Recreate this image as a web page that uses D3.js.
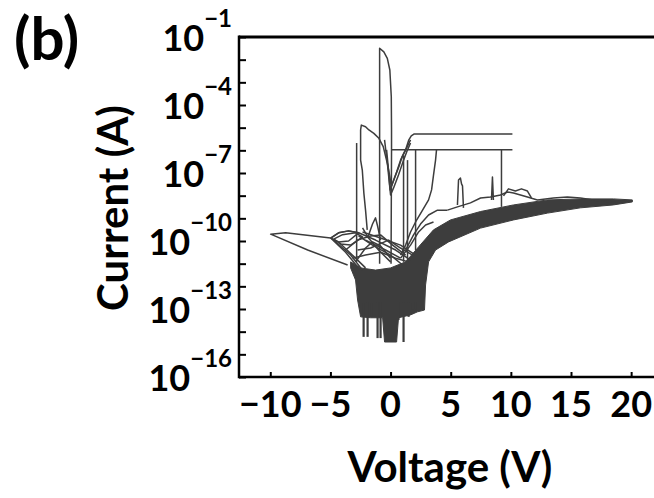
<!DOCTYPE html>
<html><head><meta charset="utf-8">
<script src="https://cdn.jsdelivr.net/npm/d3@7"></script>
<style>
html,body{margin:0;padding:0;background:#fff;}
svg{display:block;font-family:Lato,"Open Sans",sans-serif;font-weight:700;}
</style></head>
<body><svg id="chart" width="654" height="498"></svg>
<script>
// ---------- tick labels ----------
const xTicks = [-10, -5, 0, 5, 10, 15, 20];
const yLabelExps = [-1, -4, -7, -10, -13, -16];
const yMinorExps = [-2, -3, -5, -6, -8, -9, -11, -12, -14, -15];

// ---------- data (Voltage V, Current A) ----------
// dense bundle of sweeps (outline)
const fanOutline = [
  [-3.32,1.2e-11],[-2.49,6.5e-12],[-1.25,5.2e-12],[0,6.5e-12],[1.25,1.2e-11],[2.33,5.5e-11],
  [3.57,3.1e-10],[4.98,8.5e-10],[7.48,2.0e-9],[10.22,3.9e-9],[13.04,6.5e-9],[15.78,7.2e-9],
  [18.52,7.2e-9],[20.1,6.5e-9],
  [20.1,5.3e-9],[18.52,3.9e-9],[15.78,2.9e-9],[13.04,1.7e-9],[10.22,8.5e-10],[7.48,3.7e-10],
  [4.82,9.1e-11],[3.74,4.0e-11],[3.16,1.2e-11],[2.91,1.15e-12],[2.82,9e-14],[2.24,7.5e-14],
  [1.66,5.5e-14],[0.66,4.1e-14],[0.5,3.5e-15],[-0.5,3.5e-15],[-0.66,4.1e-14],[-1.66,4.1e-14],
  [-2.49,4.5e-14],[-2.74,2.5e-13],[-2.91,1.9e-12],[-3.32,6.5e-12]
];
// noise spikes under the bundle: [V, lowest current]
const floorSpikes = [
  [-2.24,5.9e-15],[-1.91,5.9e-15],[-1.58,4.5e-14],[-1.08,5.2e-15],[-0.83,5.2e-15],
  [0.66,3.3e-14],[1.08,3.5e-15],[1.50,4.5e-14],[1.83,9.1e-14],[2.08,9.1e-14]
];
// individual sweeps
const leftLoop = [[-3.57,8.7e-12],[-6.89,4.0e-11],[-9.97,2.0e-10],[-8.72,2.3e-10],[-4.98,1.35e-10],[-4.32,2.3e-10],[-3.49,2.8e-10],[-2.66,2.3e-10]];
const lens1 = [[-4.98,1.35e-10],[-4.32,2.3e-10],[-3.49,2.8e-10],[-2.66,2.3e-10],[-3.49,1.0e-10],[-4.32,9.1e-11],[-4.98,1.35e-10]];
const lens2 = [[-4.73,1.2e-10],[-3.99,1.9e-10],[-2.91,2.3e-10],[-2.33,1.5e-10],[-3.32,6.6e-11],[-4.15,7.4e-11],[-4.73,1.2e-10]];
const diag1 = [[-4.98,1.35e-10],[-3.74,3.2e-11],[-2.66,6.5e-12]];
const diag2 = [[-4.73,1.1e-10],[-3.32,2.4e-11],[-2.33,5.2e-12]];
const diag3 = [[-4.32,9.1e-11],[-2.91,1.75e-11],[-2.08,6.5e-12]];
const mid1 = [[-2.66,2.3e-10],[-1.25,1.1e-10],[0.42,4.0e-11],[1.66,1.45e-11]];
const mid2 = [[-2.66,1.7e-10],[-1.50,6.6e-11],[0,2.4e-11],[1.0,8.7e-12]];
const mid3 = [[-2.33,2.5e-10],[-0.83,1.35e-10],[0.83,6.6e-11],[2.08,2.4e-11]];
const mid4 = [[-2.08,1.1e-10],[-0.42,4.0e-11],[0.83,1.75e-11]];
const mid5 = [[-3.74,4.0e-11],[-2.74,1.1e-10],[-1.66,1.65e-10],[-0.83,1.85e-10],[0.17,6.6e-11],[1.25,2.4e-11]];
const mid6 = [[-2.91,1.2e-11],[-2.08,4.9e-11],[-1.50,9.1e-11],[-0.83,6.0e-11],[0,1.75e-11]];
const mid7 = [[-3.16,1.75e-11],[-2.08,2.4e-11],[-0.83,3.2e-11],[0.42,1.75e-11],[1.5,1.2e-11]];
const mid8 = [[-2.74,4.0e-11],[-1.66,4.9e-11],[-0.17,1.1e-10],[0.83,4.9e-11],[1.83,2.4e-11]];
const mid9 = [[-2.33,3.8e-10],[-1.83,1.35e-10],[-1.0,4.0e-11],[0,1.2e-11]];
const smallPeak = [[-1.91,1.35e-10],[-1.50,5.6e-10],[-1.25,1.05e-9],[-1.08,4.6e-10],[-0.83,1.1e-10]];
const bigPeak = [[-0.91,1.0e-11],[-0.91,3.2e-2],[-0.56,2.2e-2],[-0.27,1.15e-2],[-0.06,3.5e-3],[0.06,2.3e-4],[0.08,7.9e-6],[0.08,1.05e-6],[0.04,1.0e-11]];
const hump = [
  [-1.94,3.1e-10],[-2.08,2.3e-9],[-2.22,1.3e-8],[-2.35,1.35e-7],[-2.49,3.7e-7],[-2.49,7.9e-6],
  [-2.43,1.3e-5],[-2.08,1.1e-5],[-1.80,7.9e-6],[-1.39,5.6e-6],[-0.97,3.4e-6],[-0.61,1.45e-6],
  [-0.27,2.7e-7],[-0.06,6.9e-8],[0.06,2.5e-8],[0.27,4.9e-8],[0.69,1.9e-7],[0.97,5.3e-7],
  [1.25,1.05e-6],[1.52,2.9e-6],[1.72,4.3e-6],[1.94,5.2e-6],[10.13,5.2e-6]
];
const dip2 = [[-0.33,1.05e-6],[-0.17,1.35e-7],[-0.04,1.8e-8],[0.17,3.6e-8],[0.5,1.1e-7],[0.83,3.7e-7],[1.16,8.5e-7],[1.33,1.26e-6],[1.66,2.9e-6]];
const dip3 = [[-0.5,2.9e-6],[-0.25,2.2e-7],[0,1.07e-8],[0.25,2.2e-8],[0.66,8.1e-8],[1.08,3.7e-7],[1.41,1.05e-6],[1.66,2.1e-6]];
const riseSweep = [[3.82,1.05e-6],[3.74,3.7e-7],[3.57,8.1e-8],[3.41,1.8e-8],[3.16,6.5e-9],[2.66,2.3e-9],[2.08,6.9e-10],[1.66,2.5e-10],[1.25,6.6e-11],[0.83,2.4e-11]];
const shoulder = [[1.25,4.0e-11],[1.91,1.85e-10],[2.49,5.6e-10],[3.16,1.4e-9],[3.90,2.3e-9],[4.73,2.3e-9]];
const shoulder2 = [[0.83,1.75e-11],[1.66,6.6e-11],[2.33,2.5e-10],[2.91,5.1e-10],[3.57,6.9e-10]];
const upperEdge = [[4.73,2.3e-9],[5.56,3.2e-9],[6.64,4.8e-9],[7.48,7.9e-9],[8.31,8.7e-9],[9.14,1.07e-8],[9.72,1.45e-8],[10.22,1.3e-8],[10.80,1.07e-8],[11.38,8.7e-9],[12.21,6.5e-9],[13.54,7.9e-9],[14.70,8.7e-9],[15.78,7.9e-9],[16.86,6.5e-9],[18.52,5.3e-9],[19.93,5.9e-9]];
const bump = [[9.39,9.8e-9],[9.80,2.0e-8],[10.38,1.6e-8],[10.88,2.0e-8],[11.38,1.6e-8],[11.71,7.9e-9]];
const spikeA = [[5.56,3.9e-9],[5.65,4.9e-8],[5.81,6.0e-8],[5.90,3.3e-8],[5.98,2.7e-8],[6.06,2.9e-9]];
const spikeB = [[8.39,6.5e-9],[8.47,6.6e-8],[8.55,6.5e-9]];
// vertical jumps: [V, upper current, lower current]
const jumps = [[-2.82,2.1e-6,1.2e-11],[1.08,5.9e-7,1.2e-11],[1.41,3.7e-7,1.2e-11],[2.08,1.05e-6,4.0e-11],[9.22,1.05e-6,3.2e-9]];
// compliance plateaus: [V start, V end, current]
const plateaus = [[0.08,10.13,1.05e-6]];

const sweeps = [leftLoop, lens1, lens2, diag1, diag2, diag3, mid1, mid2, mid3, mid4, mid5, mid6,
  mid7, mid8, mid9, smallPeak, bigPeak, hump, dip2, dip3, riseSweep, shoulder, shoulder2,
  upperEdge, bump, spikeA, spikeB];

// ---------- drawing ----------
const svg = d3.select("#chart");
const x = d3.scaleLinear().domain([-12.6, 21.9]).range([239, 654]);
const y = d3.scaleLog().domain([1e-16, 1e-1]).range([377, 37]);
const ink = "#3d3d3d";
const line = d3.line().x(d => x(d[0])).y(d => y(d[1]));

const plot = svg.append("g");
plot.append("path").datum(fanOutline).attr("d", line.curve(d3.curveLinearClosed))
  .attr("fill", ink).attr("stroke", ink).attr("stroke-width", 1);
line.curve(d3.curveLinear);
plot.selectAll("line.spike").data(floorSpikes).join("line")
  .attr("x1", d => x(d[0])).attr("x2", d => x(d[0]))
  .attr("y1", y(2e-13)).attr("y2", d => y(d[1]))
  .attr("stroke", ink).attr("stroke-width", 2.2);
plot.selectAll("path.sweep").data(sweeps).join("path")
  .attr("d", line).attr("fill", "none").attr("stroke", ink)
  .attr("stroke-width", 1.5).attr("stroke-linejoin", "round");
plot.selectAll("line.jump").data(jumps).join("line")
  .attr("x1", d => x(d[0])).attr("x2", d => x(d[0]))
  .attr("y1", d => y(d[1])).attr("y2", d => y(d[2]))
  .attr("stroke", ink).attr("stroke-width", 1.5);
plot.selectAll("line.plateau").data(plateaus).join("line")
  .attr("x1", d => x(d[0])).attr("x2", d => x(d[1]))
  .attr("y1", d => y(d[2])).attr("y2", d => y(d[2]))
  .attr("stroke", ink).attr("stroke-width", 1.5);

// axes frame
const axisG = svg.append("g").attr("stroke", "#000");
axisG.append("line").attr("x1", 239).attr("x2", 654).attr("y1", 37).attr("y2", 37).attr("stroke-width", 2.8);
axisG.append("line").attr("x1", 239).attr("x2", 654).attr("y1", 377).attr("y2", 377).attr("stroke-width", 2.5);
axisG.append("line").attr("x1", 239).attr("x2", 239).attr("y1", 35.6).attr("y2", 378.2).attr("stroke-width", 2.5);

// y ticks (inward)
const yAll = yLabelExps.concat(yMinorExps).map(e => Math.pow(10, e));
const yAxis = d3.axisLeft(y).tickValues(yAll).tickSize(-7).tickFormat("");
const gy = svg.append("g").attr("transform", "translate(239,0)").call(yAxis);
gy.select(".domain").remove();
gy.selectAll(".tick line").attr("stroke", "#000").attr("stroke-width", 2);

// x ticks (inward)
const xAxis = d3.axisBottom(x).tickValues(xTicks).tickSize(-5).tickFormat("");
const gx = svg.append("g").attr("transform", "translate(0,377)").call(xAxis);
gx.select(".domain").remove();
gx.selectAll(".tick line").attr("stroke", "#000").attr("stroke-width", 2);

// y labels
const yl = svg.append("g");
yLabelExps.forEach(e => {
  const t = yl.append("text").attr("x", 232).attr("y", y(Math.pow(10, e)) + 14)
    .attr("text-anchor", "end").attr("font-size", 36).attr("fill", "#000");
  t.append("tspan").text("10");
  t.append("tspan").attr("dy", -24).attr("font-size", 24).text("\u2212" + Math.abs(e));
});
// x labels
svg.append("g").selectAll("text").data(xTicks).join("text")
  .attr("x", d => x(d)).attr("y", 417).attr("text-anchor", "middle")
  .attr("font-size", 36).attr("fill", "#000")
  .text(d => d < 0 ? "\u2212" + Math.abs(d) : String(d));

// titles
svg.append("text").attr("x", 450).attr("y", 482).attr("text-anchor", "middle")
  .attr("font-size", 42).attr("fill", "#000").text("Voltage (V)");
svg.append("text").attr("transform", "translate(128,208) rotate(-90)").attr("text-anchor", "middle")
  .attr("font-size", 42).attr("fill", "#000").text("Current (A)");
svg.append("text").attr("x", 14).attr("y", 60).attr("font-size", 60).attr("fill", "#000").text("(b)");
</script></body></html>
